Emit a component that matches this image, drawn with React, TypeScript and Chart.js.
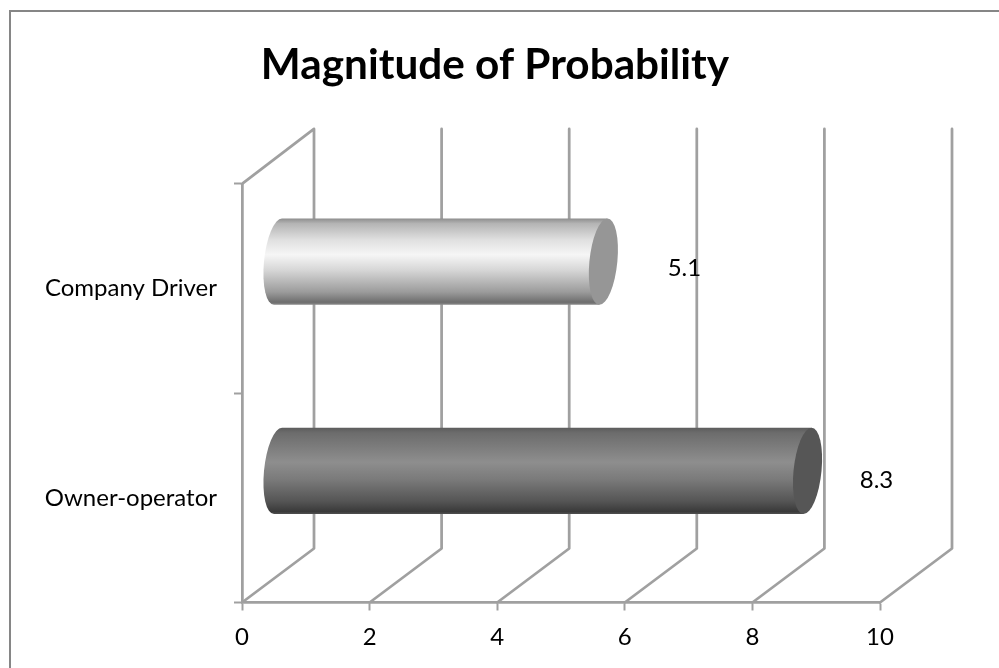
import React, { useEffect, useRef } from "react";
import { Chart, registerables } from "chart.js";

Chart.register(...registerables);

const categories = ["Company Driver", "Owner-operator"];
const magnitudes = [5.1, 8.3];
const chartTitle = "Magnitude of Probability";
const labelShift = [[81, 7], [69, 9]];
const bodyStops: [number, string][][] = [
  [[0, "#8c8c8c"], [0.06, "#b4b4b4"], [0.25, "#e0e0e0"], [0.42, "#f6f6f6"], [0.6, "#d6d6d6"], [0.85, "#9c9c9c"], [0.97, "#6e6e6e"], [1, "#8a8a8a"]],
  [[0, "#5c5c5c"], [0.06, "#6c6c6c"], [0.4, "#8e8e8e"], [0.6, "#7a7a7a"], [0.85, "#555555"], [0.97, "#3a3a3a"], [1, "#505050"]],
];
const capColors = ["#969696", "#565656"];

const FONT = "Lato, Carlito, Calibri, sans-serif";
const GRID = "#a0a0a0";
const DEPTH_X = 72;
const DEPTH_Y = 54;

const scene = {
  id: "scene",
  beforeDraw(chart: any) {
    const { ctx, width, height } = chart;
    chart.scales.y.left = 0;
    ctx.save();
    ctx.fillStyle = "#ffffff";
    ctx.fillRect(0, 0, width, height);
    ctx.strokeStyle = "#868686";
    ctx.lineWidth = 2;
    ctx.beginPath();
    ctx.moveTo(10, height);
    ctx.lineTo(10, 11);
    ctx.lineTo(width, 11);
    ctx.stroke();
    ctx.restore();
  },
  beforeDatasetsDraw(chart: any) {
    const { ctx, chartArea, scales } = chart;
    const { top, bottom } = chartArea;
    ctx.save();
    ctx.strokeStyle = GRID;
    ctx.lineWidth = 2.75;
    ctx.lineJoin = "round";
    ctx.lineCap = "round";
    scales.x.ticks.forEach((t: any, i: number) => {
      const x = scales.x.getPixelForValue(t.value);
      ctx.beginPath();
      ctx.moveTo(x, bottom);
      ctx.lineTo(x + DEPTH_X, bottom - DEPTH_Y);
      ctx.lineTo(x + DEPTH_X, top - 55);
      if (i === 0) ctx.lineTo(x, top);
      ctx.stroke();
    });
    ctx.restore();
  },
  beforeDatasetDraw() {
    return false;
  },
  afterDatasetsDraw(chart: any) {
    const { ctx, scales } = chart;
    const x0 = scales.x.getPixelForValue(0) + DEPTH_X / 2;
    const meta = chart.getDatasetMeta(0);
    meta.data.forEach((bar: any, i: number) => {
      const xEnd = bar.x + DEPTH_X / 2;
      const cy = bar.y - DEPTH_Y / 2;
      const b = bar.height / 2;
      const a = 14;
      const k = -0.093;
      const g = ctx.createLinearGradient(0, cy - b, 0, cy + b);
      bodyStops[i].forEach(([p, c]) => g.addColorStop(p, c));

      ctx.save();
      ctx.save();
      ctx.transform(1, 0, k, 1, -k * cy, 0);
      ctx.beginPath();
      ctx.ellipse(x0, cy, a, b, 0, -Math.PI / 2, Math.PI / 2, true);
      ctx.lineTo(xEnd, cy + b);
      ctx.lineTo(xEnd, cy - b);
      ctx.closePath();
      ctx.restore();
      ctx.fillStyle = g;
      ctx.fill();

      ctx.save();
      ctx.transform(1, 0, k, 1, -k * cy, 0);
      ctx.beginPath();
      ctx.ellipse(xEnd, cy, a, b, 0, 0, Math.PI * 2);
      ctx.restore();
      ctx.fillStyle = capColors[i];
      ctx.fill();

      ctx.fillStyle = "#000000";
      ctx.font = `24px ${FONT}`;
      ctx.textAlign = "center";
      ctx.textBaseline = "middle";
      ctx.fillText(String(magnitudes[i]), xEnd + labelShift[i][0], cy + labelShift[i][1]);
      ctx.restore();
    });
  },
};

export default function App() {
  const ref = useRef<HTMLCanvasElement>(null);
  useEffect(() => {
    document.body.style.margin = "0";
    const chart = new Chart(ref.current!, {
      type: "bar",
      data: {
        labels: categories,
        datasets: [
          {
            label: "Magnitude",
            data: magnitudes,
            backgroundColor: ["#e0e0e0", "#808080"],
            categoryPercentage: 1,
            barPercentage: 0.413,
          },
        ],
      },
      plugins: [scene],
      options: {
        indexAxis: "y",
        animation: false,
        responsive: false,
        layout: { padding: { left: 110, right: 119, top: 0, bottom: 0 } },
        plugins: {
          legend: { display: false },
          tooltip: { enabled: false },
          title: {
            display: true,
            text: chartTitle,
            color: "#000000",
            font: { family: FONT, size: 42.3, weight: "bold" },
            padding: { top: 40, bottom: 93.2 },
          },
        },
        scales: {
          x: {
            min: 0,
            max: 10,
            ticks: { stepSize: 2, color: "#000000", padding: 12.5, font: { family: FONT, size: 24 } },
            grid: { drawOnChartArea: false, drawTicks: true, tickLength: 8, tickColor: GRID, tickWidth: 2 },
            border: { color: GRID, width: 2.75 },
            afterFit: (s: any) => { s.height = 65.5; },
          },
          y: {
            ticks: { color: "#000000", padding: 17, font: { family: FONT, size: 24 } },
            grid: { drawOnChartArea: false, drawTicks: true, tickLength: 8, tickColor: GRID, tickWidth: 2 },
            border: { color: GRID, width: 2.75 },
            afterFit: (s: any) => { s.width = 132; },
          },
        },
      },
    } as any);
    return () => chart.destroy();
  }, []);
  return <canvas ref={ref} width={999} height={668} style={{ display: "block" }} />;
}
